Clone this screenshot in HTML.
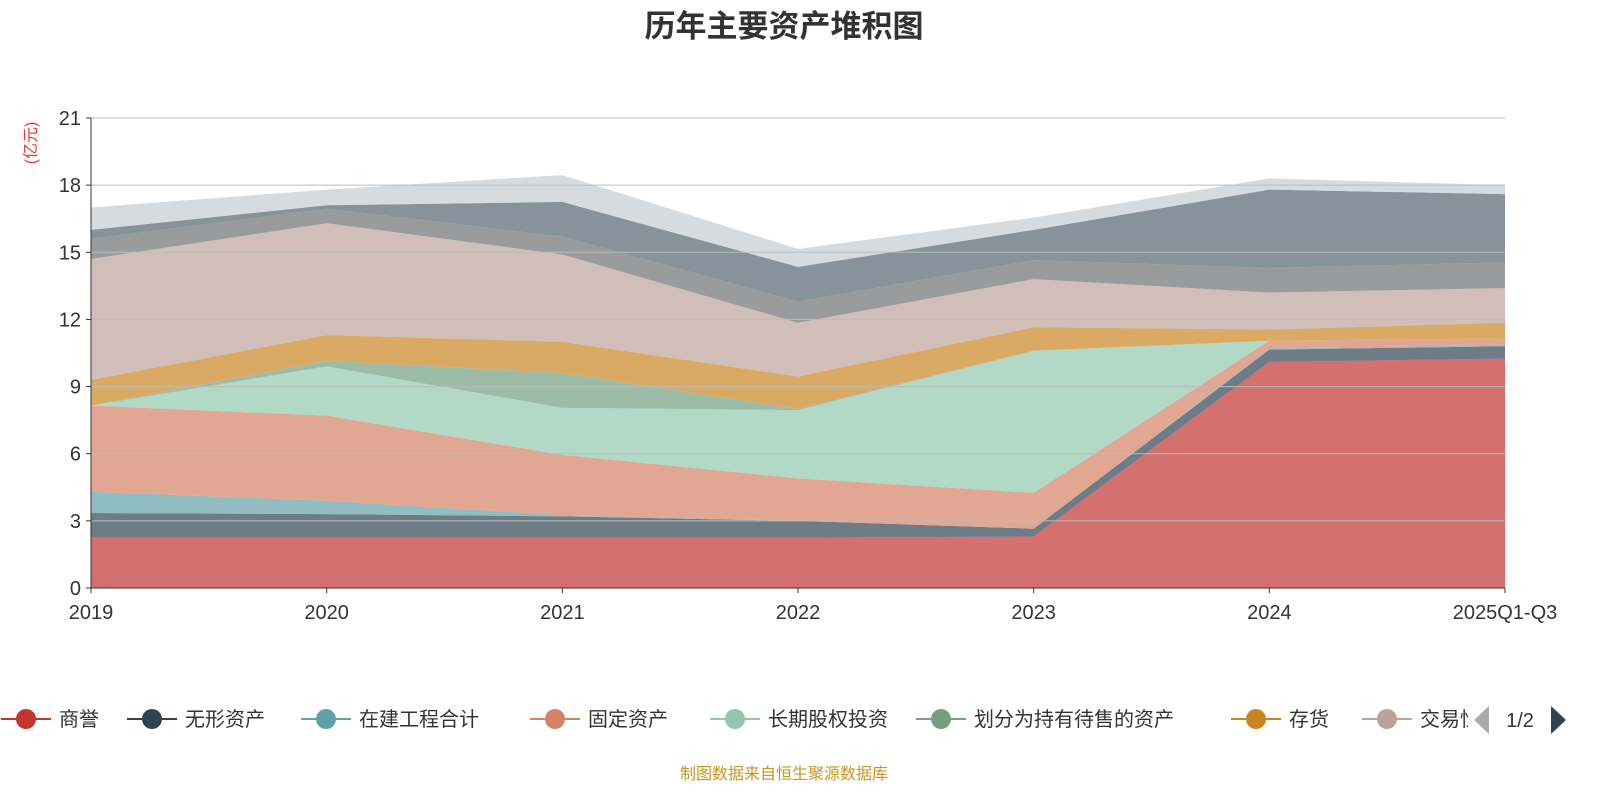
<!DOCTYPE html>
<html><head><meta charset="utf-8"><style>
html,body{margin:0;padding:0;background:#fff;}
svg{display:block;font-family:"Liberation Sans","Noto Sans CJK SC",sans-serif;}
</style></head><body>
<svg id="chart" width="1600" height="800" viewBox="0 0 1600 800">
<text x="784" y="37" text-anchor="middle" font-size="31" font-weight="bold" fill="#333">历年主要资产堆积图</text>
<text transform="translate(36,143) rotate(-90)" text-anchor="middle" font-size="16" fill="#e43c3c">(亿元)</text>
<g id="areas"></g>
<g id="grid"></g>
<g id="axes"></g>
<g id="legend"></g>
<text x="784" y="779" text-anchor="middle" font-size="16" fill="#c8961e">制图数据来自恒生聚源数据库</text>
</svg>
<script>
const categories=["2019","2020","2021","2022","2023","2024","2025Q1-Q3"];
const seriesNames=["商誉","无形资产","在建工程合计","固定资产","长期股权投资","划分为持有待售的资产","存货","交易性金融资产","其他1","其他2","其他3"];
const s0=[2.25,2.25,2.25,2.25,2.3,10.1,10.25];
const s1=[1.1,1.05,0.95,0.75,0.35,0.55,0.55];
const s2=[0.95,0.6,0.05,0,0,0.05,0.05];
const s3=[3.85,3.8,2.7,1.9,1.6,0.35,0.3];
const s4=[0,2.2,2.1,3.05,6.35,0,0];
const s5=[0,0.25,1.55,0.05,0,0,0];
const s6=[1.15,1.15,1.4,1.45,1.05,0.5,0.7];
const s7=[5.4,5.0,3.9,2.4,2.15,1.65,1.55];
const s8=[0.9,0.65,0.8,0.95,0.85,1.1,1.15];
const s9=[0.4,0.15,1.55,1.55,1.35,3.5,3.05];
const s10=[1.0,0.7,1.2,0.8,0.55,0.5,0.4];
const seriesValues=[s0,s1,s2,s3,s4,s5,s6,s7,s8,s9,s10];
const yTicks=[0,3,6,9,12,15,18,21];
const colors=["#c23531","#2f4554","#61a0a8","#d48265","#91c7ae","#749f83","#ca8622","#bda29a","#6e7074","#546570","#c4ccd3"];
const NS="http://www.w3.org/2000/svg";
const x0=91,x1=1505,yTop=118,yBot=588,yMax=21;
const xs=i=>x0+(x1-x0)*i/(categories.length-1);
const ys=v=>yBot-(yBot-yTop)*v/yMax;
function mk(tag,attrs,parent){const e=document.createElementNS(NS,tag);for(const k in attrs)e.setAttribute(k,attrs[k]);parent.appendChild(e);return e;}
const areas=document.getElementById('areas');
let cum=categories.map(()=>0);
seriesValues.forEach((vals,si)=>{
  const low=cum.slice();const high=cum.map((c,i)=>c+vals[i]);
  let d="";
  high.forEach((v,i)=>{d+=(i?"L":"M")+xs(i)+","+ys(v);});
  for(let i=low.length-1;i>=0;i--)d+="L"+xs(i)+","+ys(low[i]);
  const p=mk('path',{d:d+"Z",fill:colors[si],'fill-opacity':0.7,stroke:'none'},areas);
  
  
  cum=high;
});
const grid=document.getElementById('grid'),axes=document.getElementById('axes');
yTicks.forEach(t=>{
  if(t>0){const l=mk('line',{x1:x0,x2:x1,y1:ys(t),y2:ys(t),stroke:'#bbb','stroke-width':1},grid);
  
  }
  const tk=mk('line',{x1:x0-5,x2:x0,y1:ys(t),y2:ys(t),stroke:'#333'},axes);
  
  
  const tx=mk('text',{x:x0-10,y:ys(t)+7,'text-anchor':'end','font-size':20,fill:'#333'},axes);
  tx.textContent=t;
  
  
});
const ya=mk('line',{x1:x0,x2:x0,y1:yTop,y2:yBot,stroke:'#333'},axes);


const xa=mk('line',{x1:x0,x2:x1,y1:yBot,y2:yBot,stroke:'#333'},axes);


categories.forEach((c,i)=>{
  const tk=mk('line',{x1:xs(i),x2:xs(i),y1:yBot,y2:yBot+5,stroke:'#333'},axes);
  
  
  const tx=mk('text',{x:xs(i),y:619,'text-anchor':'middle','font-size':20,fill:'#333'},axes);
  tx.textContent=c;
  
  
});
const legend=document.getElementById('legend');
const legendCx=[26,152,326,555,735,941,1256,1387];
legendCx.forEach((cx,i)=>{
  const g=mk('g',{},legend);
  
  
  mk('line',{x1:cx-25,x2:cx+25,y1:719,y2:719,stroke:colors[i],'stroke-width':2},g);
  mk('circle',{cx:cx,cy:719,r:10,fill:colors[i]},g);
  const t=mk('text',{x:cx+33,y:726,'font-size':20,fill:'#333'},g);
  t.textContent=seriesNames[i];
});
const clip=mk('clipPath',{id:'lc'},legend);mk('rect',{x:0,y:690,width:1468,height:60},clip);
legend.lastElementChild; 
legend.querySelectorAll('g')[7].setAttribute('clip-path','url(#lc)');
const prev=mk('path',{d:'M1489,706 L1489,734 L1474,720 Z',fill:'#aaa'},legend);


const pg=mk('text',{x:1520,y:727,'text-anchor':'middle','font-size':20,fill:'#333'},legend);
pg.textContent='1/2';


const next=mk('path',{d:'M1551,706 L1551,734 L1566,720 Z',fill:'#2f4554'},legend);


</script>
</body></html>
